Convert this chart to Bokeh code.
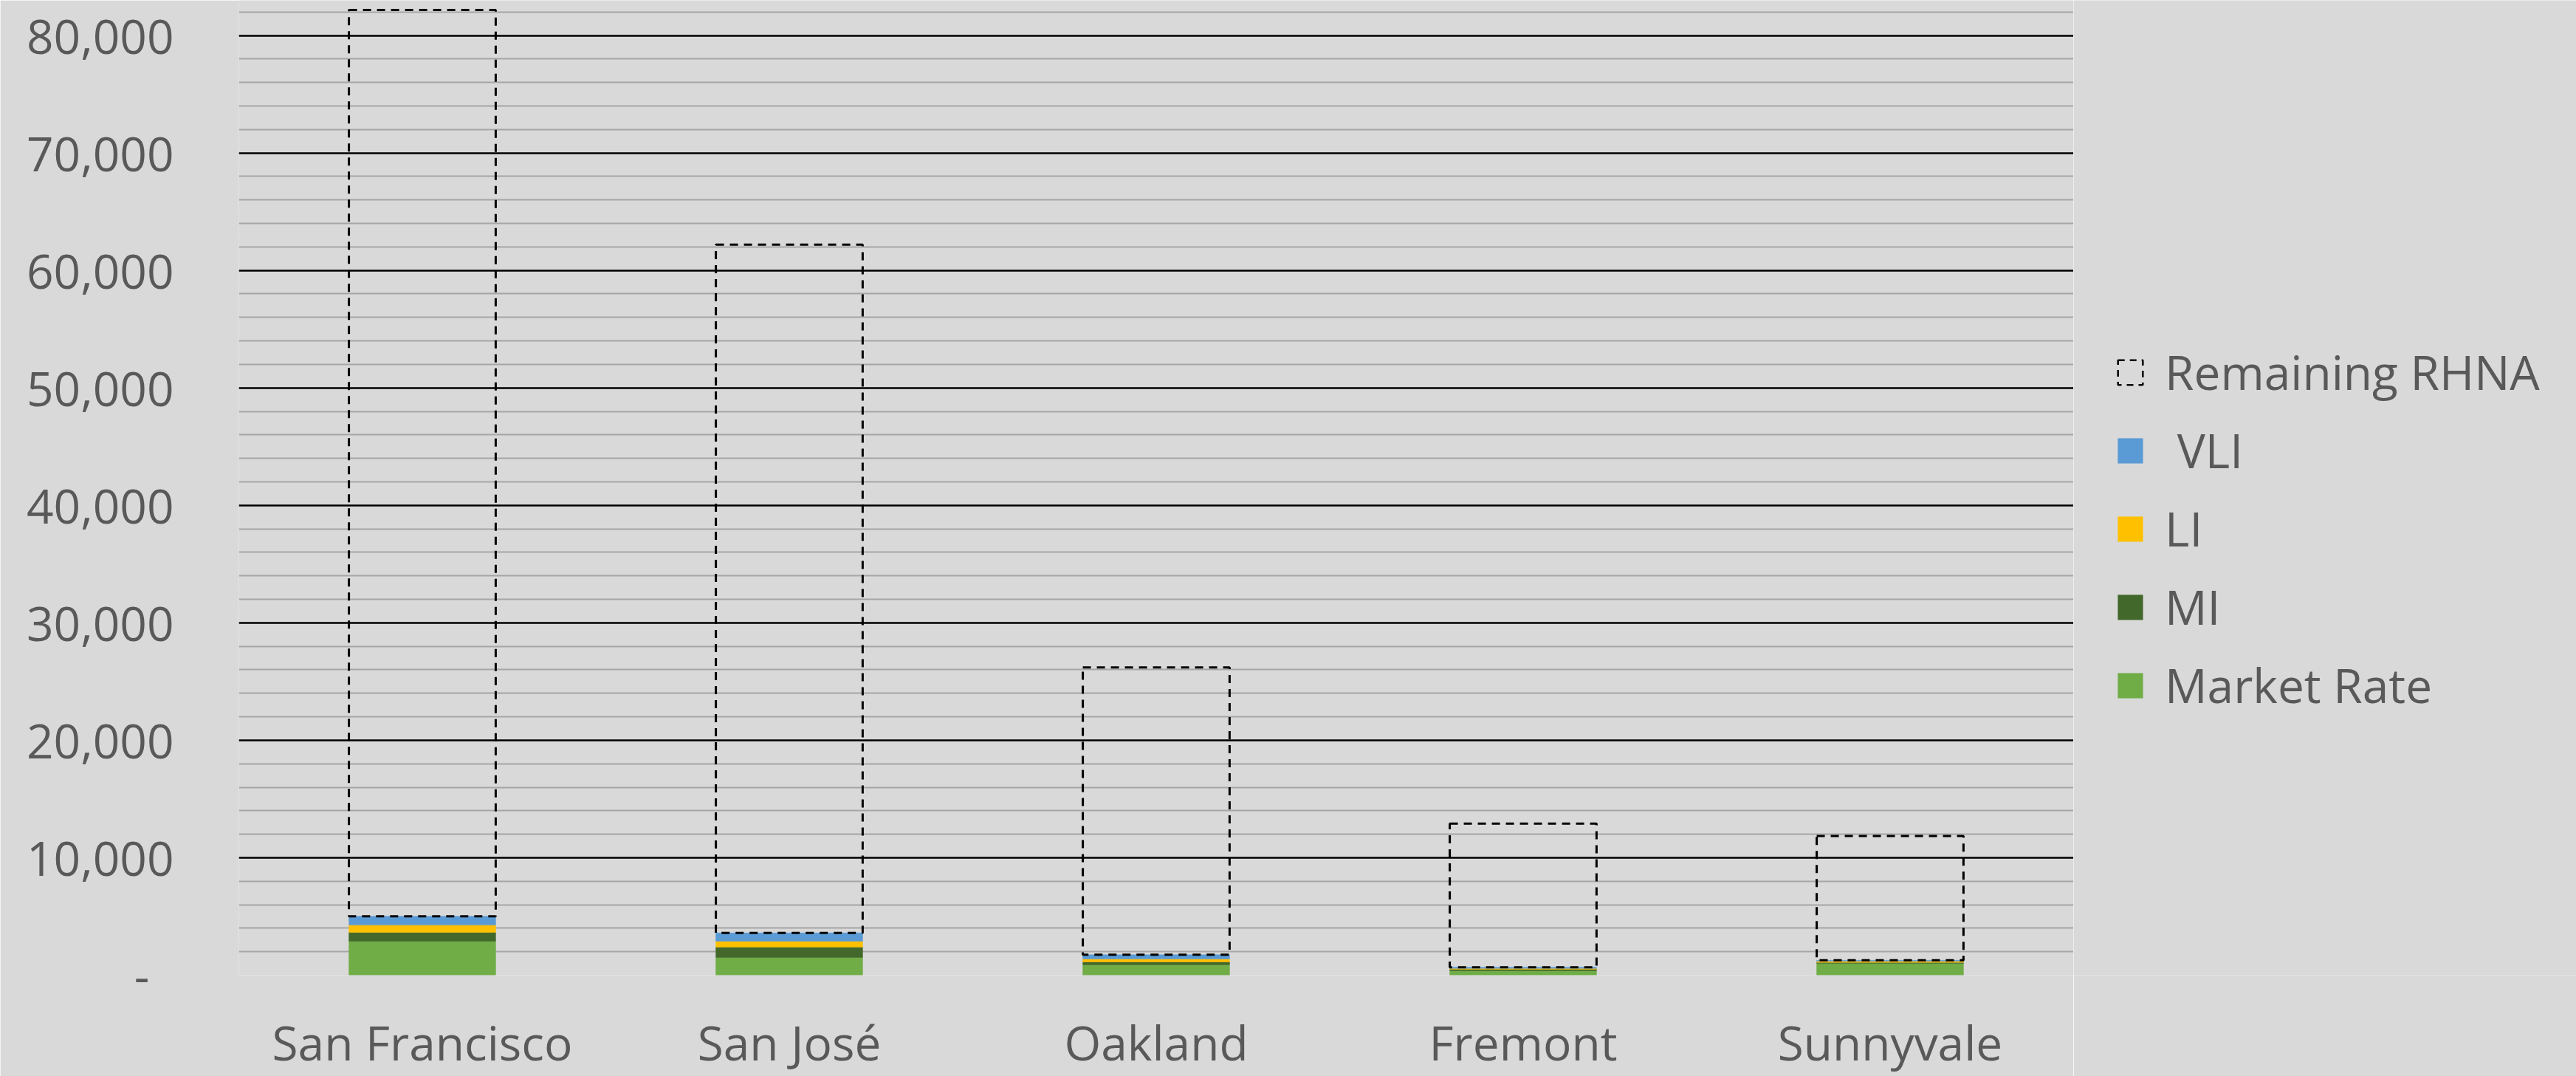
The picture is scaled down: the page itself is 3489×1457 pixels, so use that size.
from bokeh.plotting import figure
from bokeh.layouts import row
from bokeh.models import (FactorRange, Range1d, FixedTicker, NumeralTickFormatter,
                          Legend, LegendItem, ColumnDataSource)
from bokeh.transform import stack
from bokeh.embed import file_html
from bokeh.resources import INLINE

# ---- data ----
cities = ["San Francisco", "San José", "Oakland", "Fremont", "Sunnyvale"]
market_rate = [2890, 1510, 880, 380, 1000]
mi = [750, 880, 250, 120, 90]
li = [630, 500, 250, 80, 100]
vli = [750, 710, 360, 90, 80]
remaining_rhna = [77150, 58600, 24460, 12230, 10580]

y_tick_values = [0, 10000, 20000, 30000, 40000, 50000, 60000, 70000, 80000]
major_grid_values = [10000, 20000, 30000, 40000, 50000, 60000, 70000, 80000]
minor_grid_values = [2000, 4000, 6000, 8000, 12000, 14000, 16000, 18000,
                     22000, 24000, 26000, 28000, 32000, 34000, 36000, 38000,
                     42000, 44000, 46000, 48000, 52000, 54000, 56000, 58000,
                     62000, 64000, 66000, 68000, 72000, 74000, 76000, 78000, 82000]

legend_labels = ["Remaining RHNA", " VLI", "LI", "MI", "Market Rate"]
colors = ["#70AD47", "#43682B", "#FFC000", "#5B9BD5"]

FONT = "Open Sans"
TEXT_COLOR = "#595959"
BG = "#D9D9D9"
DASH = "11 8"

source = ColumnDataSource(dict(city=cities, mr=market_rate, mi=mi, li=li,
                               vli=vli, rem=remaining_rhna))
stackers = ["mr", "mi", "li", "vli"]


def draw_bars(fig):
    bars = fig.vbar_stack(stackers, x="city", width=0.4, color=colors,
                          line_width=0.5, source=source)
    rem = fig.vbar(x="city", width=0.4,
                   bottom=stack("mr", "mi", "li", "vli"),
                   top=stack("mr", "mi", "li", "vli", "rem"),
                   fill_color=None, line_color="black", line_width=3,
                   line_dash=DASH, source=source)
    return bars, rem


# ---------------- main chart ----------------
p = figure(width=2808, height=1457, output_backend="svg", toolbar_location=None,
           x_range=FactorRange(*cities, range_padding=0),
           y_range=Range1d(0, 82990),
           min_border_left=323, min_border_right=0,
           min_border_top=0, min_border_bottom=135)

p.background_fill_color = BG
p.border_fill_color = BG
p.outline_line_color = None

p.xgrid.grid_line_color = None
p.ygrid.ticker = FixedTicker(ticks=major_grid_values, minor_ticks=minor_grid_values)
p.ygrid.grid_line_color = "black"
p.ygrid.grid_line_width = 2.5
p.ygrid.minor_grid_line_color = "#A6A6A6"
p.ygrid.minor_grid_line_width = 2

draw_bars(p)

yax = p.yaxis[0]
yax.ticker = FixedTicker(ticks=y_tick_values)
yax.formatter = NumeralTickFormatter(format="0,0")
yax.major_label_overrides = {0: "-\u00a0\u00a0"}
yax.axis_line_color = None
yax.major_tick_line_color = None
yax.minor_tick_line_color = None
yax.major_tick_out = 0
yax.minor_tick_out = 0
yax.major_label_standoff = 88
yax.major_label_text_font = FONT
yax.major_label_text_font_size = "64px"
yax.major_label_text_color = TEXT_COLOR

xax = p.xaxis[0]
xax.axis_line_color = None
xax.major_tick_line_color = None
xax.minor_tick_line_color = None
xax.major_tick_out = 0
xax.major_label_standoff = 47
xax.major_label_text_font = FONT
xax.major_label_text_font_size = "64px"
xax.major_label_text_color = TEXT_COLOR

# ---------------- legend panel ----------------
# the same series again; on this panel's numeric x range the category
# names have no position, so nothing is drawn here except the legend swatches
lg = figure(width=681, height=1457, output_backend="svg", toolbar_location=None,
            x_axis_type=None, y_axis_type=None,
            x_range=Range1d(0, 1), y_range=Range1d(0, 1),
            min_border_left=0, min_border_right=0,
            min_border_top=0, min_border_bottom=0)
lg.background_fill_color = BG
lg.border_fill_color = BG
lg.outline_line_color = None

lg_bars, lg_rem = draw_bars(lg)
lg_rem.glyph.line_width = 2.5
lg_rem.glyph.line_dash = "9 7"

items = [LegendItem(label=legend_labels[0], renderers=[lg_rem]),
         LegendItem(label=legend_labels[1], renderers=[lg_bars[3]]),
         LegendItem(label=legend_labels[2], renderers=[lg_bars[2]]),
         LegendItem(label=legend_labels[3], renderers=[lg_bars[1]]),
         LegendItem(label=legend_labels[4], renderers=[lg_bars[0]])]
legend = Legend(items=items, location=(56, 349))
legend.label_text_font = FONT
legend.label_text_font_size = "64px"
legend.label_text_color = TEXT_COLOR
legend.glyph_width = 42
legend.glyph_height = 42
legend.label_standoff = 26
legend.spacing = 19
legend.padding = 0
legend.margin = 0
legend.border_line_color = None
legend.background_fill_alpha = 0
lg.add_layout(legend)

layout = row(p, lg)

html = file_html(layout, INLINE)
html = html.replace("<body>",
                    '<body style="margin:0;overflow:hidden;background:#D9D9D9">', 1)
open("out.html", "w").write(html)
